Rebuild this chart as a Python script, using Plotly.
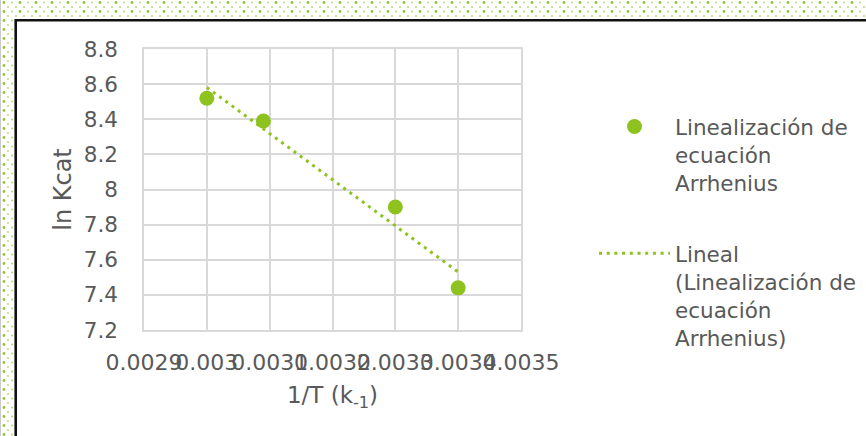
import base64
import numpy as np
import plotly.graph_objects as go

# Inverse temperature (1/K) and ln of the catalytic constant
inv_T = [0.0030, 0.00309, 0.0033, 0.0034]
ln_kcat = [8.52, 8.39, 7.90, 7.44]

x_ticks = [0.0029, 0.0030, 0.0031, 0.0032, 0.0033, 0.0034, 0.0035]
x_tick_labels = ["0.0029", "0.003", "0.0031", "0.0032", "0.0033", "0.0034", "0.0035"]
y_ticks = [7.2, 7.4, 7.6, 7.8, 8.0, 8.2, 8.4, 8.6, 8.8]
y_tick_labels = ["7.2", "7.4", "7.6", "7.8", "8", "8.2", "8.4", "8.6", "8.8"]

series_name = "Linealización de<br>ecuación<br>Arrhenius"
trend_name = "Lineal<br>(Linealización de<br>ecuación<br>Arrhenius)"

GREEN = "#8DC21F"
TEXT = "#595959"
GRID = "#D9D9D9"
FONT = "DejaVu Sans"

W, H = 866, 436
L, R, T, B = 144, 521, 49, 330

# least-squares trendline over the data range
slope, intercept = np.polyfit(inv_T, ln_kcat, 1)
trend_x = [min(inv_T), max(inv_T)]
trend_y = [slope * v + intercept for v in trend_x]

# dotted page background with a white card and dark left/top edge
svg = (
    f"<svg xmlns='http://www.w3.org/2000/svg' width='{W}' height='{H}'>"
    "<defs><pattern id='p' width='16' height='9' patternUnits='userSpaceOnUse'>"
    "<rect width='16' height='9' fill='#ffffff'/>"
    "<circle cx='4' cy='2.5' r='1.4' fill='#8fc43a'/>"
    "<circle cx='12' cy='2.5' r='1.1' fill='#b9db86'/>"
    "<circle cx='0' cy='7' r='1.1' fill='#b9db86'/>"
    "<circle cx='8' cy='7' r='1.1' fill='#b9db86'/>"
    "<circle cx='16' cy='7' r='1.1' fill='#b9db86'/>"
    "</pattern></defs>"
    f"<rect width='{W}' height='{H}' fill='url(#p)'/>"
    f"<rect x='17' y='21' width='{W}' height='{H}' fill='#ffffff'/>"
    f"<path d='M15.7 {H} V20.3 H{W}' stroke='#111' stroke-width='2.6' fill='none'/>"
    f"<path d='M0.5 0 V{H}' stroke='#cccccc' stroke-width='1' fill='none'/>"
    "</svg>"
)
svg_uri = "data:image/svg+xml;base64," + base64.b64encode(svg.encode()).decode()

pw, ph = R - L, B - T

fig = go.Figure()
fig.add_trace(go.Scatter(
    x=inv_T, y=ln_kcat, mode="markers", name=series_name,
    marker=dict(color=GREEN, size=15), legendgroup="a",
))
fig.add_trace(go.Scatter(
    x=trend_x, y=trend_y, mode="lines", name=trend_name,
    line=dict(color=GREEN, width=3, dash="3px,4.7px"), legendgroup="b",
))

fig.update_layout(
    width=W, height=H,
    margin=dict(l=L, r=W - R, t=T, b=H - B),
    paper_bgcolor="white",
    plot_bgcolor="rgba(0,0,0,0)",
    font=dict(family=FONT, color=TEXT, size=22),
    images=[dict(
        source=svg_uri, xref="paper", yref="paper",
        x=-L / pw, y=1 + T / ph, sizex=W / pw, sizey=H / ph,
        xanchor="left", yanchor="top", sizing="stretch", layer="below",
    )],
    legend=dict(
        xref="container", yref="container",
        x=594 / W, y=1 - 106 / H, xanchor="left", yanchor="top",
        font=dict(family=FONT, size=21.5, color=TEXT),
        bgcolor="rgba(0,0,0,0)", itemwidth=71, valign="top",
        tracegroupgap=40, maxheight=430,
    ),
    xaxis=dict(
        range=[0.0029, 0.0035], tickvals=x_ticks, ticktext=x_tick_labels,
        showgrid=True, gridcolor=GRID, gridwidth=1.5,
        showline=True, linecolor=GRID, linewidth=1.5, mirror=True,
        zeroline=False, ticks="", ticklabelstandoff=12, tickangle=0,
        automargin=False,
        tickfont=dict(size=22, color=TEXT),
        title=dict(text="1/T (k<sub>-1</sub>)", font=dict(size=23, color=TEXT), standoff=13),
    ),
    yaxis=dict(
        range=[7.2, 8.8], tickvals=y_ticks, ticktext=y_tick_labels,
        showgrid=True, gridcolor=GRID, gridwidth=1.5,
        showline=True, linecolor=GRID, linewidth=1.5, mirror=True,
        zeroline=False, ticks="", ticklabelstandoff=20, automargin=False,
        tickfont=dict(size=21.5, color=TEXT),
        title=dict(text="ln Kcat", font=dict(size=24, color=TEXT), standoff=5),
    ),
)

fig.write_html("out.html")
